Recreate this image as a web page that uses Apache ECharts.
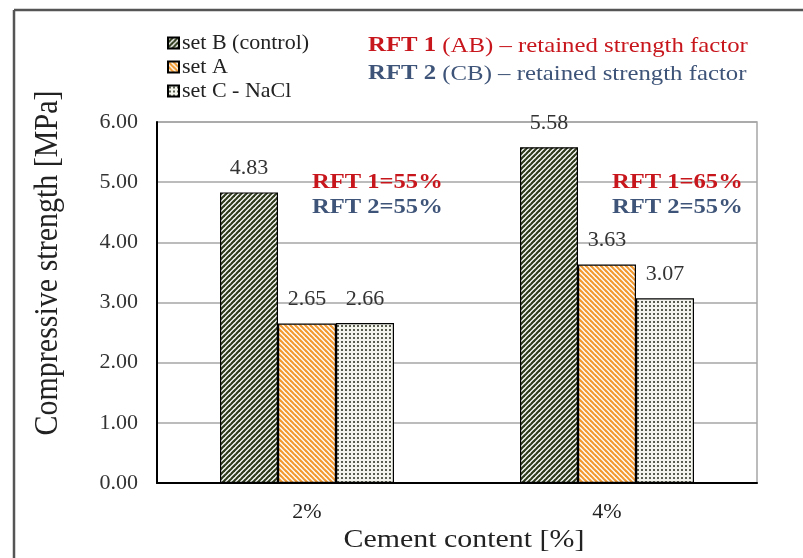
<!DOCTYPE html>
<html><head><meta charset="utf-8">
<script src="https://cdn.jsdelivr.net/npm/echarts@6/dist/echarts.min.js"></script>
<style>html,body{margin:0;padding:0;background:#fff}#c{width:803px;height:558px}</style>
</head><body><div id="c"></div>
<script>
var categories = ['2%', '4%'];
var seriesNames = ['set B (control)', 'set A', 'set C - NaCl'];
var setB = [4.83, 5.58];
var setA = [2.65, 3.63];
var setC = [2.66, 3.07];
var rft1 = ['RFT 1=55%', 'RFT 1=65%'];
var rft2 = ['RFT 2=55%', 'RFT 2=55%'];

var FONT = '"Liberation Serif", "Times New Roman", serif';

function stripe(fg, bg, dir) {
  var p = 5, c = document.createElement('canvas');
  c.width = p; c.height = p;
  var g = c.getContext('2d');
  g.fillStyle = bg; g.fillRect(0, 0, p, p);
  g.strokeStyle = fg; g.lineWidth = 2.2;
  for (var k = -1; k <= 1; k++) {
    g.beginPath();
    if (dir > 0) { g.moveTo(-p + k * p, p + p); g.lineTo(p + p + k * p, -p); }
    else { g.moveTo(-p + k * p, -p); g.lineTo(p + p + k * p, p + p); }
    g.stroke();
  }
  return c;
}
function dots() {
  var p = 4, c = document.createElement('canvas');
  c.width = p; c.height = p;
  var g = c.getContext('2d');
  g.fillStyle = '#f4f6ee'; g.fillRect(0, 0, p, p);
  g.fillStyle = '#5a5e50'; g.fillRect(1, 1, 2, 2);
  return c;
}
var pats = [
  {image: stripe('#2f3b1c', '#ffffff', 1), repeat: 'repeat'},
  {image: stripe('#f29a30', '#ffffff', -1), repeat: 'repeat'},
  {image: dots(), repeat: 'repeat'}
];
var datas = [setB, setA, setC];

var chart = echarts.init(document.getElementById('c'), null, {renderer: 'canvas'});
var series = datas.map(function (d, i) {
  return {
    name: seriesNames[i], type: 'bar', data: d,
    barGap: '0%', barCategoryGap: '42%',
    itemStyle: {color: pats[i], borderColor: '#000', borderWidth: 1.2},
    label: {show: true, position: 'top', distance: 13, formatter: function (p) { return p.value.toFixed(2); },
      fontFamily: FONT, fontSize: 22, color: '#333'}
  };
});
chart.setOption({
  animation: false,
  backgroundColor: '#fff',
  grid: {left: 157, right: 46, top: 122, bottom: 75, show: true, borderColor: '#a6a6a6', borderWidth: 1.5},
  legend: {
    orient: 'vertical', left: 167, top: 32, padding: 0, itemGap: 2, itemWidth: 11, itemHeight: 11, icon: 'rect',
    textStyle: {fontFamily: FONT, fontSize: 22, lineHeight: 20, color: '#222', padding: [0, 0, 0, -2]},
    data: seriesNames
  },
  xAxis: {
    type: 'category', data: categories,
    axisLine: {lineStyle: {color: '#000', width: 2}}, axisTick: {show: false},
    axisLabel: {margin: 18, fontFamily: FONT, fontSize: 22, color: '#222'}
  },
  yAxis: {
    type: 'value', min: 0, max: 6, interval: 1,
    axisLine: {show: true, lineStyle: {color: '#000', width: 2}}, axisTick: {show: false},
    splitLine: {lineStyle: {color: '#a6a6a6', width: 1.5}},
    axisLabel: {margin: 19, fontFamily: FONT, fontSize: 22, color: '#333', formatter: function (v) { return v.toFixed(2); }}
  },
  series: series
});

var gfx = [
  {type: 'line', shape: {x1: 14, y1: 10, x2: 14, y2: 558}, style: {stroke: '#555', lineWidth: 2.5}},
  {type: 'line', shape: {x1: 14, y1: 10, x2: 803, y2: 10}, style: {stroke: '#555', lineWidth: 2.5}},
  {type: 'text', x: 48, y: 263, rotation: Math.PI / 2, scaleY: 1.1,
    style: {text: 'Compressive strength [MPa]', font: '30px ' + FONT, fill: '#222', align: 'center', verticalAlign: 'middle'}},
  {type: 'text', x: 464, y: 540, scaleX: 1.15,
    style: {text: 'Cement content [%]', font: '26px ' + FONT, fill: '#222', align: 'center', verticalAlign: 'middle'}},
  {type: 'text', x: 368, y: 46, scaleX: 1.18,
    style: {text: '{b|RFT 1 }{n|(AB) – retained strength factor}', verticalAlign: 'middle',
      rich: {b: {fontFamily: FONT, fontSize: 21, fontWeight: 'bold', fill: '#c8161d'}, n: {fontFamily: FONT, fontSize: 21, fill: '#c8161d'}}}},
  {type: 'text', x: 368, y: 74, scaleX: 1.18,
    style: {text: '{b|RFT 2 }{n|(CB) – retained strength factor}', verticalAlign: 'middle',
      rich: {b: {fontFamily: FONT, fontSize: 21, fontWeight: 'bold', fill: '#3e5478'}, n: {fontFamily: FONT, fontSize: 21, fill: '#3e5478'}}}}
];
categories.forEach(function (cat, i) {
  var px = chart.convertToPixel({xAxisIndex: 0}, cat);
  gfx.push({type: 'text', x: px + 5, y: 183, scaleX: 1.17,
    style: {text: rft1[i], font: 'bold 21px ' + FONT, fill: '#c8161d', verticalAlign: 'middle'}});
  gfx.push({type: 'text', x: px + 5, y: 208, scaleX: 1.17,
    style: {text: rft2[i], font: 'bold 21px ' + FONT, fill: '#3e5478', verticalAlign: 'middle'}});
});
chart.setOption({graphic: gfx});
</script></body></html>
